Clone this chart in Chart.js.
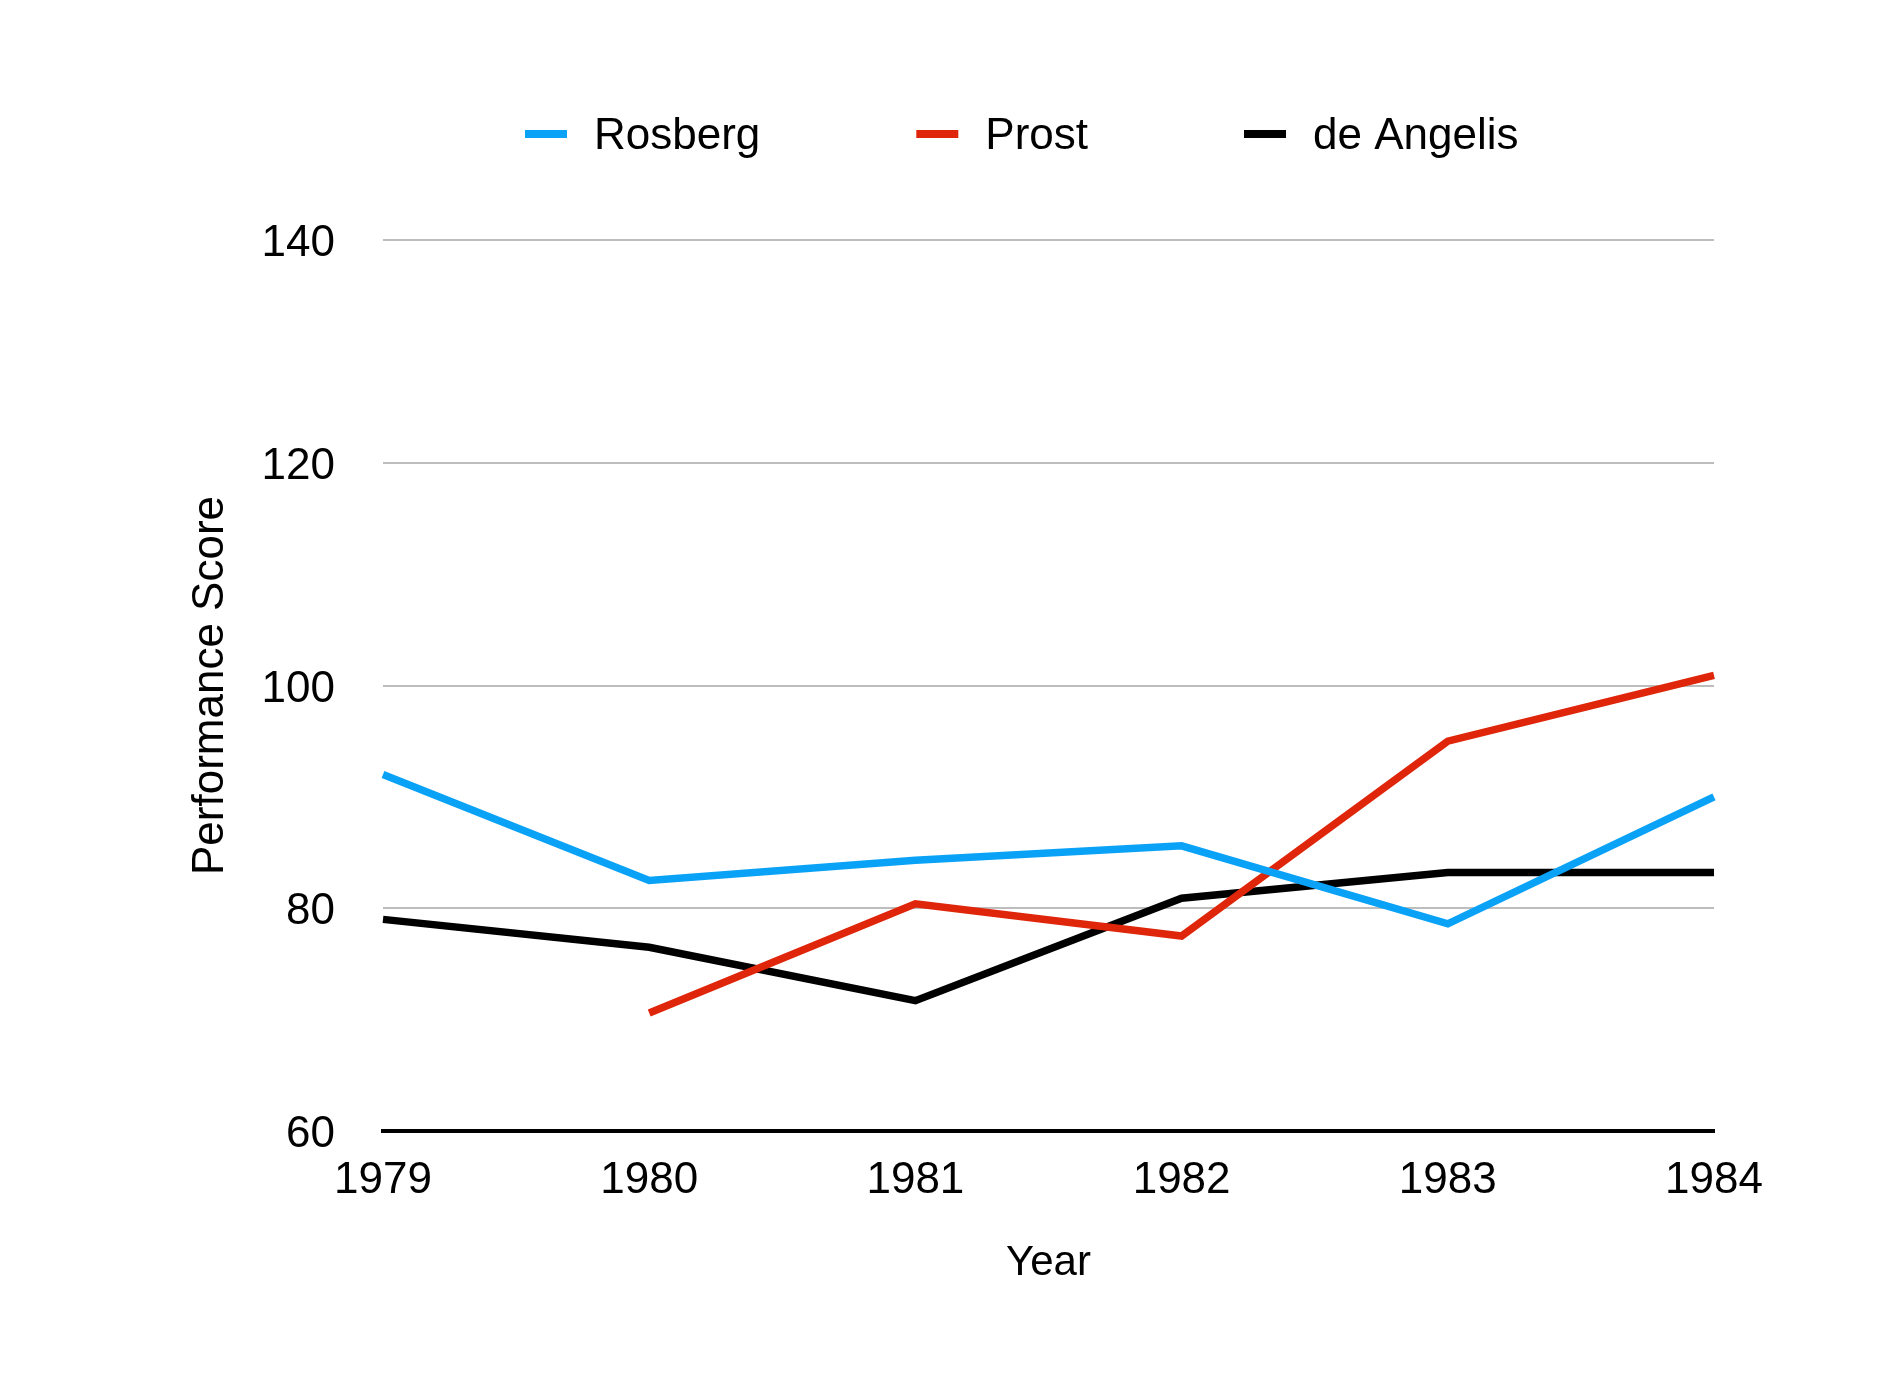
<!DOCTYPE html>
<html>
<head>
<meta charset="utf-8">
<script src="https://cdn.jsdelivr.net/npm/chart.js@4.4.1/dist/chart.umd.min.js"></script>
<style>
  html, body { margin: 0; padding: 0; background: #ffffff; }
  canvas { display: block; }
</style>
</head>
<body>
<canvas id="c" width="1887" height="1377"></canvas>
<script>
// ---- data ----
const years = ["1979", "1980", "1981", "1982", "1983", "1984"];
const rosberg = [92.0, 82.5, 84.3, 85.6, 78.6, 90.0];
const prost = [null, 70.6, 80.4, 77.5, 95.0, 100.9];
const deAngelis = [79.0, 76.5, 71.7, 80.9, 83.2, 83.2];
const seriesNames = ["Rosberg", "Prost", "de Angelis"];
const yTicks = [60, 80, 100, 120, 140];
const xTitle = "Year";
const yTitle = "Performance Score";

// ---- styles ----
const COLORS = ["#0AA2F7", "#DF260A", "#000000"];
const FONT = "'Liberation Sans', Arial, Helvetica, sans-serif";
Chart.defaults.font.family = FONT;
Chart.defaults.color = "#000000";

// custom legend drawn in the top band
const topLegend = {
  id: "topLegend",
  afterDraw(chart) {
    const ctx = chart.ctx;
    ctx.save();
    ctx.font = "44px " + FONT;
    ctx.textBaseline = "middle";
    ctx.textAlign = "left";
    const y = 137;
    let x = chart.chartArea.left + 142;
    const boxW = 42, boxH = 8, textGap = 27, itemGap = 156;
    chart.data.datasets.forEach((ds) => {
      ctx.fillStyle = ds.borderColor;
      ctx.fillRect(x, y - boxH / 2 - 3, boxW, boxH);
      ctx.fillStyle = "#000000";
      const tx = x + boxW + textGap;
      ctx.fillText(ds.label, tx, y);
      x = tx + ctx.measureText(ds.label).width + itemGap;
    });
    ctx.restore();
  }
};

const seriesData = [rosberg, prost, deAngelis];
const datasets = seriesNames.map((name, i) => ({
  label: name,
  data: seriesData[i],
  borderColor: COLORS[i],
  backgroundColor: COLORS[i],
  borderWidth: 7.5,
  pointRadius: 0,
  pointHoverRadius: 0,
  tension: 0,
  fill: false,
  spanGaps: false,
  borderJoinStyle: "miter",
  borderCapStyle: "butt"
}));

new Chart(document.getElementById("c"), {
  type: "line",
  data: { labels: years, datasets: datasets },
  plugins: [topLegend],
  options: {
    responsive: false,
    devicePixelRatio: 1,
    animation: false,
    layout: { padding: { left: 0, top: 240, right: 173, bottom: 0 } },
    plugins: {
      legend: { display: false },
      tooltip: { enabled: false },
      title: { display: false }
    },
    scales: {
      x: {
        type: "category",
        offset: false,
        grid: { display: false, drawTicks: false },
        border: { display: true, color: "#000000", width: 4 },
        ticks: {
          padding: 23,
          maxRotation: 0,
          autoSkip: false,
          font: { size: 44 },
          color: "#000000"
        },
        title: {
          display: true,
          text: xTitle,
          font: { size: 42 },
          color: "#000000",
          padding: { top: 0, bottom: 88 }
        },
        afterFit(scale) { scale.height = 246; }
      },
      y: {
        min: yTicks[0],
        max: yTicks[yTicks.length - 1],
        afterBuildTicks(scale) { scale.ticks = yTicks.map(v => ({ value: v })); },
        grid: {
          drawTicks: false,
          lineWidth: 2,
          color: (c) => (c.tick && c.tick.value === yTicks[0]) ? "rgba(0,0,0,0)" : "#BDBDBD"
        },
        border: { display: false },
        ticks: {
          padding: 48,
          labelOffset: 4,
          font: { size: 44 },
          color: "#000000"
        },
        title: {
          display: true,
          text: yTitle,
          font: { size: 44 },
          color: "#000000",
          padding: { top: 184, bottom: 0 }
        },
        afterFit(scale) { scale.width = 383; }
      }
    }
  }
});
</script>
</body>
</html>
